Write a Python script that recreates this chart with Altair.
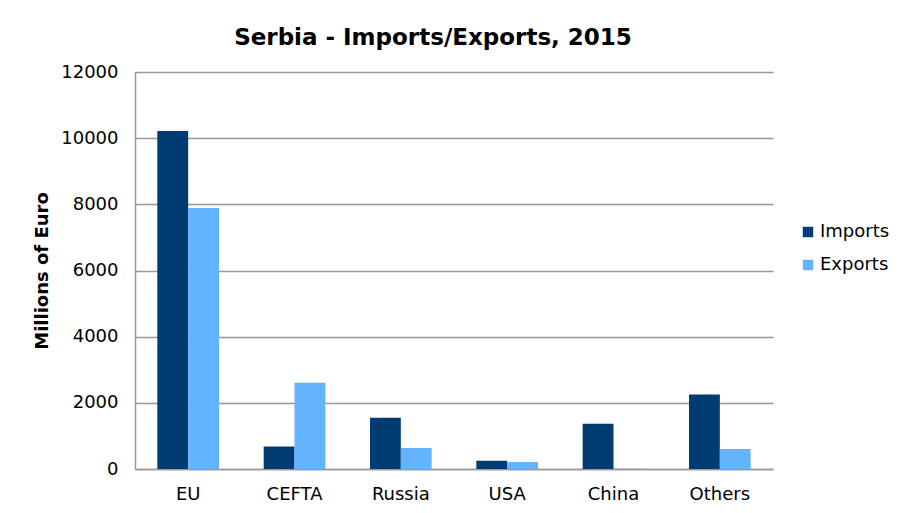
import altair as alt
import pandas as pd

regions = ["EU", "CEFTA", "Russia", "USA", "China", "Others"]
imports = [10220, 680, 1550, 250, 1370, 2250]
exports = [7890, 2610, 635, 210, 8, 605]
series = ["Imports", "Exports"]
colors = ["#003c71", "#63b3ff"]
y_ticks = [0, 2000, 4000, 6000, 8000, 10000, 12000]

rows = []
for r, i, e in zip(regions, imports, exports):
    rows.append({"Region": r, "Flow": "Imports", "Value": i})
    rows.append({"Region": r, "Flow": "Exports", "Value": e})
df = pd.DataFrame(rows)

FONT = "DejaVu Sans"

chart = alt.Chart(df).mark_bar().encode(
    x=alt.X("Region:N", sort=regions,
            scale=alt.Scale(paddingInner=0.42, paddingOuter=0.21),
            axis=alt.Axis(title=None, labelAngle=0, ticks=False, labelPadding=16,
                          labelFontSize=18, labelFont=FONT, labelColor="#000",
                          domainColor="#999", domainWidth=1.5)),
    xOffset=alt.XOffset("Flow:N", sort=series),
    y=alt.Y("Value:Q",
            scale=alt.Scale(domain=[0, 12000], nice=False),
            axis=alt.Axis(title="Millions of Euro", values=y_ticks, ticks=False, format="d",
                          labelPadding=17, labelFontSize=18, labelFont=FONT,
                          labelColor="#000", titleFont=FONT, titleFontSize=18,
                          titleFontWeight="bold", titleColor="#000", titlePadding=9,
                          gridColor="#999", gridWidth=1.5,
                          domainColor="#999", domainWidth=1.5)),
    color=alt.Color("Flow:N", sort=series,
                    scale=alt.Scale(domain=series, range=colors),
                    legend=alt.Legend(title=None, orient="none", legendX=664, legendY=151,
                                      symbolType="square", symbolSize=110,
                                      symbolStrokeWidth=0, labelFontSize=18,
                                      labelFont=FONT, labelColor="#000",
                                      rowPadding=15, labelOffset=3)),
).properties(
    width=638,
    height=397,
    title=alt.TitleParams("Serbia - Imports/Exports, 2015", font=FONT, fontSize=23,
                          fontWeight="bold", color="#000", offset=13, dx=-21),
    padding={"left": 127, "top": 64, "right": 122, "bottom": 40},
    autosize=alt.AutoSizeParams(type="none"),
).configure_view(stroke=None)

chart.save("out.html", embed_options={"renderer": "svg", "actions": False})
